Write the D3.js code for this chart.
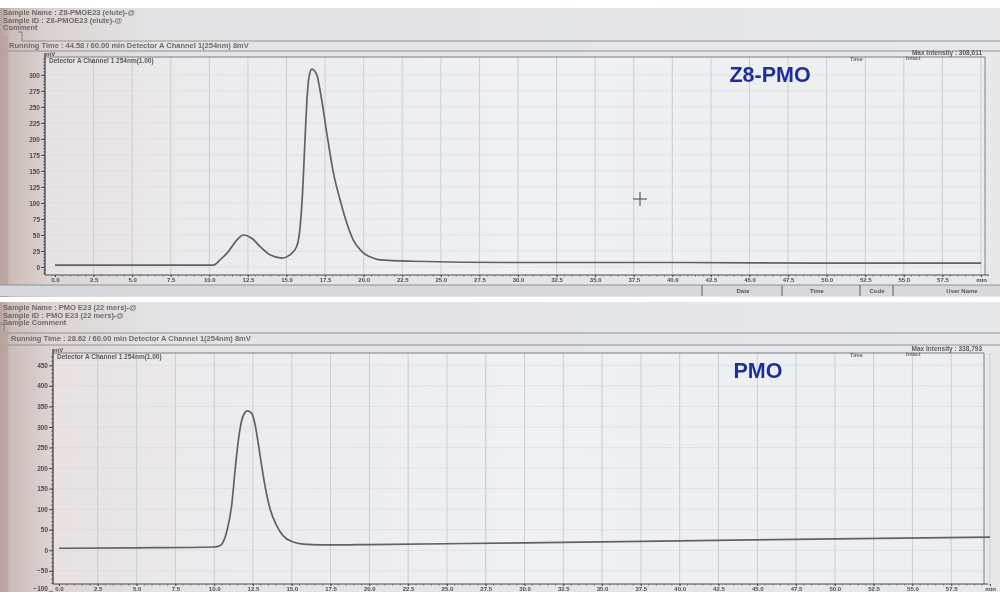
<!DOCTYPE html>
<html>
<head>
<meta charset="utf-8">
<script src="https://cdn.jsdelivr.net/npm/d3@7"></script>
<style>
  body { margin: 0; background: #fff; }
  svg { display: block; font-family: "Liberation Sans", Arial, sans-serif; }
</style>
</head>
<body>
<svg id="chart" width="1000" height="592"></svg>
<script>
// retention time ticks (min) and their labels
var xTickValues = [0, 2.5, 5, 7.5, 10, 12.5, 15, 17.5, 20, 22.5, 25, 27.5, 30, 32.5, 35, 37.5, 40, 42.5, 45, 47.5, 50, 52.5, 55, 57.5, 60];
var xTickLabels = ["0.0", "2.5", "5.0", "7.5", "10.0", "12.5", "15.0", "17.5", "20.0", "22.5", "25.0", "27.5", "30.0",
                   "32.5", "35.0", "37.5", "40.0", "42.5", "45.0", "47.5", "50.0", "52.5", "55.0", "57.5", "min"];

// intensity ticks (mV)
var topYTicks = [0, 25, 50, 75, 100, 125, 150, 175, 200, 225, 250, 275, 300];
var bottomYTicks = [-100, -50, 0, 50, 100, 150, 200, 250, 300, 350, 400, 450];

// Z8-PMO trace
var z8Time   = [0, 5, 9.5, 10.26, 10.69, 11.23, 11.78, 12.2, 12.75, 13.29, 13.93, 14.69, 15.23, 15.66, 15.88, 16.05, 16.2, 16.35, 16.5, 16.64,
                16.96, 17.28, 17.61, 18.04, 18.47, 18.9, 19.33, 19.88, 20.61, 21.06, 23.2, 30, 40, 50, 60];
var z8Signal = [3, 3, 3, 3, 11, 24, 42, 50, 45, 32, 19, 14, 19, 32, 62, 120, 200, 270, 302, 309,
                300, 261, 209, 147, 105, 69, 42, 24, 14, 11, 9, 7, 7, 6, 6];

// PMO trace
var pmoTime   = [0, 5, 10, 10.37, 10.8, 11.13, 11.34, 11.55, 11.77, 11.98, 12.15, 12.42, 12.63, 12.95, 13.27, 13.6, 14.03, 14.45,
                 15.1, 15.74, 16.8, 18.1, 20, 30, 40, 50, 60];
var pmoSignal = [5, 6, 8, 11, 44, 110, 192, 265, 315, 335, 339, 333, 307, 233, 158, 101, 60, 35,
                 20, 15, 13, 13, 14, 18, 23, 28, 32];

var svg = d3.select('#chart');
var defs = svg.append('defs');

function hGrad(id, stops) {
  var gr = defs.append('linearGradient').attr('id', id).attr('x1', 0).attr('x2', 1).attr('y1', 0).attr('y2', 0);
  stops.forEach(function(s) {
    gr.append('stop').attr('offset', s[0]).attr('stop-color', s[1]);
  });
}
hGrad('screen', [[0, '#b7a29b'], [0.012, '#cdbdb8'], [0.05, '#dcd3d1'], [0.15, '#e3e2e4'], [1, '#e6e8ec']]);
hGrad('plotbg', [[0, '#e8e1e1'], [0.15, '#ebeaec'], [0.5, '#eef0f2'], [1, '#eceef1']]);

defs.append('filter').attr('id', 'soft')
  .append('feGaussianBlur').attr('stdDeviation', 0.35);

function drawPanel(p) {
  var x = d3.scaleLinear().domain([0, 60]).range(p.xRange);
  var y = d3.scaleLinear().domain(p.yDomain).range([p.plotBottom, p.plotTop]);

  var g = svg.append('g').attr('filter', 'url(#soft)');

  // photographed screen
  g.append('rect')
    .attr('x', 0).attr('y', p.screenTop)
    .attr('width', 1000).attr('height', p.screenBottom - p.screenTop)
    .attr('fill', 'url(#screen)');

  // header text
  var head = g.append('g')
    .style('font-size', '7.5px')
    .style('font-weight', 'bold')
    .style('fill', '#6d6a6c');
  p.header.forEach(function(h) {
    head.append('text').attr('x', h[0]).attr('y', h[1]).text(h[2]);
  });

  // header rules
  p.rules.forEach(function(r) {
    g.append('line')
      .attr('x1', r[0]).attr('x2', 1000).attr('y1', r[1]).attr('y2', r[1])
      .attr('stroke', '#8a8a8e').attr('stroke-width', 0.9);
  });
  g.append('path')
    .attr('d', 'M' + p.boxX + ',' + (p.rules[0][1] - 9) + 'h4v9')
    .attr('fill', 'none').attr('stroke', '#7a7a7e').attr('stroke-width', 0.9);

  // plot area
  g.append('rect')
    .attr('x', p.axisX).attr('y', p.plotTop)
    .attr('width', p.plotRight - p.axisX).attr('height', p.plotBottom - p.plotTop)
    .attr('fill', 'url(#plotbg)');

  g.append('g').selectAll('line')
    .data(xTickValues.slice(1))
    .enter().append('line')
      .attr('x1', function(d) { return x(d); })
      .attr('x2', function(d) { return x(d); })
      .attr('y1', p.plotTop)
      .attr('y2', p.plotBottom)
      .attr('stroke', '#c6c9ce')
      .attr('stroke-width', 0.9);

  g.append('g').selectAll('line')
    .data(p.yTicks.filter(function(d) { return d > p.yDomain[0] && d < p.yDomain[1]; }))
    .enter().append('line')
      .attr('x1', p.axisX)
      .attr('x2', p.plotRight)
      .attr('y1', function(d) { return y(d); })
      .attr('y2', function(d) { return y(d); })
      .attr('stroke', '#d6d8dc')
      .attr('stroke-width', 0.6);

  // frame top / right
  g.append('path')
    .attr('d', 'M' + p.axisX + ',' + p.plotTop + 'H' + p.plotRight + 'V' + p.plotBottom)
    .attr('fill', 'none').attr('stroke', '#7d7f84').attr('stroke-width', 1);

  // y axis
  var ya = g.append('g')
    .attr('transform', 'translate(' + p.axisX + ',0)')
    .call(d3.axisLeft(y).tickValues(p.yTicks).tickSize(4).tickPadding(1));
  ya.select('.domain').remove();
  ya.selectAll('line').attr('stroke', '#4a4a4a');
  ya.selectAll('text')
    .style('font-size', '6.5px').style('font-weight', 'bold').style('fill', '#4d4d50')
    .attr('y', function(d) { return y(d) > 586 ? -3 : 0; });

  g.append('g').selectAll('line')
    .data(d3.range(p.yDomain[0] - p.yDomain[0] % p.minorY, p.yDomain[1], p.minorY))
    .enter().append('line')
      .attr('x1', p.axisX - 2).attr('x2', p.axisX)
      .attr('y1', function(d) { return y(d); })
      .attr('y2', function(d) { return y(d); })
      .attr('stroke', '#555').attr('stroke-width', 0.7);

  g.append('line')
    .attr('x1', p.axisX).attr('x2', p.axisX)
    .attr('y1', p.plotTop - 4).attr('y2', p.plotBottom)
    .attr('stroke', '#4a4a4e').attr('stroke-width', 1.4);

  // x axis
  var xa = g.append('g')
    .attr('transform', 'translate(0,' + p.plotBottom + ')')
    .call(d3.axisBottom(x).tickValues(xTickValues)
      .tickFormat(function(d, i) { return xTickLabels[i]; })
      .tickSize(2).tickPadding(1));
  xa.select('.domain').remove();
  xa.selectAll('line').attr('stroke', '#4a4a4a');
  xa.selectAll('text').style('font-size', '6px').style('font-weight', 'bold').style('fill', '#4d4d50');

  g.append('g').selectAll('line')
    .data(d3.range(0, 60.01, 0.5))
    .enter().append('line')
      .attr('x1', function(d) { return x(d); })
      .attr('x2', function(d) { return x(d); })
      .attr('y1', p.plotBottom)
      .attr('y2', p.plotBottom + 1.5)
      .attr('stroke', '#555').attr('stroke-width', 0.7);

  g.append('line')
    .attr('x1', p.axisX).attr('x2', p.plotRight + 4)
    .attr('y1', p.plotBottom).attr('y2', p.plotBottom)
    .attr('stroke', '#4a4a4e').attr('stroke-width', 1.1);

  // axis captions
  g.append('text').attr('x', p.axisX + 1).attr('y', p.plotTop - 1)
    .style('font-size', '6px').style('font-weight', 'bold').style('fill', '#555').text('mV');
  g.append('text').attr('x', p.axisX + 4).attr('y', p.plotTop + 6)
    .style('font-size', '6.5px').style('font-weight', 'bold').style('fill', '#5a5a5e')
    .text('Detector A Channel 1 254nm(1.00)');
  g.append('text').attr('x', 982).attr('y', p.plotTop - 2).attr('text-anchor', 'end')
    .style('font-size', '6.5px').style('font-weight', 'bold').style('fill', '#5a5a5e')
    .text('Max Intensity : ' + p.maxText);
  g.append('text').attr('x', 850).attr('y', p.plotTop + 4)
    .style('font-size', '5.5px').style('font-weight', 'bold').style('fill', '#6a6a6e').text('Time');
  g.append('text').attr('x', 906).attr('y', p.plotTop + 3)
    .style('font-size', '5.5px').style('font-weight', 'bold').style('fill', '#6a6a6e').text('Intact');

  // trace
  var line = d3.line()
    .x(function(d, i) { return x(p.time[i]); })
    .y(function(d) { return y(d); })
    .curve(d3.curveMonotoneX);
  g.append('path')
    .datum(p.signal)
    .attr('d', line)
    .attr('fill', 'none')
    .attr('stroke', '#616166')
    .attr('stroke-width', 1.7);

  // sample label
  g.append('text')
    .attr('x', p.label[0]).attr('y', p.label[1])
    .attr('text-anchor', 'middle')
    .style('font-size', '21.5px')
    .style('font-weight', 'bold')
    .style('fill', '#1f2fa0')
    .text(p.label[2]);

  // bezel
  g.append('rect')
    .attr('x', 0).attr('y', p.screenTop + 28)
    .attr('width', 8).attr('height', p.screenBottom - p.screenTop - 28)
    .attr('fill', '#b9a59e').attr('opacity', 0.85);

  return g;
}

var topPanel = drawPanel({
  screenTop: 8, screenBottom: 297,
  header: [[3, 15, 'Sample Name : Z8-PMOE23 (elute)-@'],
           [3, 23, 'Sample ID : Z8-PMOE23 (elute)-@'],
           [3, 30, 'Comment'],
           [9, 48, 'Running Time : 44.58 / 60.00 min Detector A Channel 1(254nm) 8mV']],
  rules: [[22, 41], [0, 51]],
  boxX: 18,
  axisX: 45, plotTop: 57, plotBottom: 275, plotRight: 985,
  xRange: [55, 981],
  yDomain: [-12.5, 328], yTicks: topYTicks, minorY: 5,
  time: z8Time, signal: z8Signal,
  maxText: '308,611',
  label: [770, 82, 'Z8-PMO']
});

// crosshair cursor left on the screen
topPanel.append('path')
  .attr('d', 'M633,199h14M640,192v14')
  .attr('stroke', '#444').attr('stroke-width', 1);

// status bar under the first screenshot
var bar = svg.append('g').attr('filter', 'url(#soft)');
bar.append('rect').attr('x', 0).attr('y', 285).attr('width', 1000).attr('height', 11).attr('fill', '#d6d8db');
bar.append('line').attr('x1', 0).attr('x2', 1000).attr('y1', 285).attr('y2', 285).attr('stroke', '#8d9095');
[702, 782, 860, 893].forEach(function(d) {
  bar.append('line').attr('x1', d).attr('x2', d).attr('y1', 285).attr('y2', 296).attr('stroke', '#6f7277').attr('stroke-width', 1.2);
});
[[743, 'Date'], [817, 'Time'], [877, 'Code'], [962, 'User Name']].forEach(function(d) {
  bar.append('text').attr('x', d[0]).attr('y', 293).attr('text-anchor', 'middle')
    .style('font-size', '6px').style('font-weight', 'bold').style('fill', '#555').text(d[1]);
});

drawPanel({
  screenTop: 302, screenBottom: 592,
  header: [[3, 310, 'Sample Name : PMO E23 (22 mers)-@'],
           [3, 318, 'Sample ID : PMO E23 (22 mers)-@'],
           [3, 325, 'Sample Comment'],
           [11, 341, 'Running Time : 28.62 / 60.00 min Detector A Channel 1(254nm) 8mV']],
  rules: [[4, 333], [0, 345]],
  boxX: 0,
  axisX: 53, plotTop: 353, plotBottom: 584, plotRight: 984,
  xRange: [59, 990],
  yDomain: [-82, 480], yTicks: bottomYTicks, minorY: 10,
  time: pmoTime, signal: pmoSignal,
  maxText: '338,793',
  label: [758, 378, 'PMO']
});
</script>
</body>
</html>
